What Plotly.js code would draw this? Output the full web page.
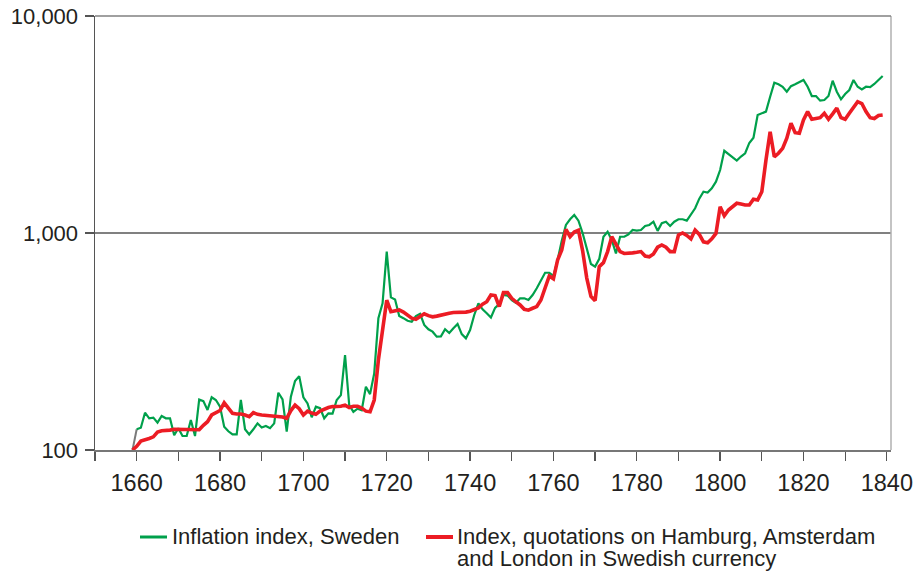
<!DOCTYPE html>
<html>
<head>
<meta charset="utf-8">
<script src="https://cdn.plot.ly/plotly-3.0.1.min.js"></script>
<style>
  html, body { margin: 0; padding: 0; background: #ffffff; }
  #chart { width: 917px; height: 571px; }
</style>
</head>
<body>
<div id="chart"></div>
<script>
// ---------------- DATA ----------------
const firstYearRed = 1659;
const firstYearGreen = 1660;

// Inflation index, Sweden (annual, 1660-1839)
const inflationSweden = [
  124.6, 126.7, 148.6, 140, 141, 133.6, 143.5, 140, 140, 117,
  126, 116, 116, 137.5, 116, 171, 168, 153, 175, 170,
  158.5, 128, 122, 118, 118, 170, 124.6, 118, 124.6, 132.7,
  127, 129, 126, 132.7, 183.6, 171, 121.5, 176, 208, 219,
  175, 164, 141.5, 158.5, 156, 140, 147.6, 147, 170, 179,
  274, 161, 150, 155, 152.5, 195.6, 181, 225.5, 404.5, 474,
  820, 505, 494, 414, 405, 394, 390, 414, 424, 377,
  360, 351, 333, 334, 360, 346, 364, 381, 342, 327,
  357, 419, 474, 445, 427, 408, 452, 470, 518, 515,
  491, 477, 500, 500, 491, 518, 556, 607, 656, 656,
  634, 751, 922, 1089, 1157, 1210, 1140, 1000, 840, 720,
  700, 760, 961, 1013, 928, 805, 961, 961, 986, 1032,
  1025, 1032, 1077, 1089, 1127, 1023, 1110, 1127, 1077, 1127,
  1157, 1157, 1140, 1210, 1300, 1440, 1549, 1535, 1607, 1724,
  1950, 2393, 2310, 2233, 2155, 2250, 2330, 2600, 2750, 3499,
  3560, 3625, 4246, 4928, 4850, 4720, 4477, 4750, 4850, 4980,
  5070, 4720, 4277, 4277, 4071, 4100, 4277, 5032, 4477, 4131,
  4371, 4560, 5070, 4720, 4590, 4720, 4700, 4860, 5100, 5290
];

// Index, quotations on Hamburg, Amsterdam and London in Swedish currency (annual, 1659-1839)
const exchangeIndex = [
  100,
  104, 110, 111, 113, 115, 121, 122.7, 122.7, 123.5, 124.6,
  124.6, 124.6, 124.6, 123.5, 123.5, 124, 130, 135, 145, 148.6,
  152, 165, 155, 147.6, 146.5, 146.5, 145, 142.4, 148.6, 146,
  145, 144.5, 144, 144, 143.5, 142, 140, 152, 161, 155,
  145, 151, 148, 146, 151, 154, 157, 158.5, 158.5, 159,
  161, 157, 159, 159, 156, 151, 150, 170, 260, 370,
  490, 434, 436, 442, 432, 418, 405, 400, 414, 424,
  416, 411, 414, 419, 424, 427, 430, 430, 430, 432,
  436, 442, 452, 470, 482, 518, 515, 458, 531, 531,
  500, 482, 466, 445, 441, 450, 458, 491, 556, 634,
  615, 751, 835, 1040, 961, 1010, 1030, 830, 620, 510,
  488, 700, 730, 821, 961, 881, 821, 805, 805, 810,
  815, 821, 783, 777, 800, 860, 881, 860, 821, 821,
  979, 1000, 975, 940, 1032, 985, 910, 902, 940, 995,
  1320, 1200, 1276, 1320, 1371, 1360, 1345, 1345, 1430, 1420,
  1549, 2168, 2930, 2246, 2330, 2456, 2732, 3203, 2900, 2880,
  3317, 3625, 3342, 3370, 3400, 3562, 3342, 3540, 3760, 3400,
  3342, 3562, 3820, 4028, 3950, 3625, 3400, 3370, 3480, 3500
];

const xTickVals = [1650, 1660, 1670, 1680, 1690, 1700, 1710, 1720, 1730, 1740,
                   1750, 1760, 1770, 1780, 1790, 1800, 1810, 1820, 1830, 1840];
const xTickText = ['', '1660', '', '1680', '', '1700', '', '1720', '', '1740',
                   '', '1760', '', '1780', '', '1800', '', '1820', '', '1840'];
const yTickVals = [100, 1000, 10000];
const yTickText = ['100', '1,000', '10,000'];

const legendGreenText = 'Inflation index, Sweden';
const legendRedLines = ['Index, quotations on Hamburg, Amsterdam', 'and London in Swedish currency'];

// ---------------- BUILD ----------------
const yearsGreen = inflationSweden.map((_, i) => firstYearGreen + i);
const yearsRed = exchangeIndex.map((_, i) => firstYearRed + i);

const FONT = '"Liberation Sans", Arial, Helvetica, sans-serif';
const TEXT = '#231f20';
const GREEN = '#00a04b';
const RED = '#ec1c24';

// plot-area geometry (pixels) used to place the hand-made legend
const W = 917, H = 571;
const M = { l: 95, r: 26, t: 16, b: 121 };
const PW = W - M.l - M.r, PH = H - M.t - M.b;
const px = X => (X - M.l) / PW;
const py = Y => (H - M.b - Y) / PH;

const traces = [
  {
    x: [yearsRed[0], yearsGreen[0]],
    y: [exchangeIndex[0], inflationSweden[0]],
    mode: 'lines',
    line: { color: '#7a7a7a', width: 2 },
    showlegend: false,
    hoverinfo: 'skip'
  },
  {
    x: yearsGreen, y: inflationSweden,
    name: legendGreenText,
    mode: 'lines',
    line: { color: GREEN, width: 2.2 },
    showlegend: false
  },
  {
    x: yearsRed, y: exchangeIndex,
    name: legendRedLines.join(' '),
    mode: 'lines',
    line: { color: RED, width: 3.6 },
    showlegend: false
  }
];

const legendRowY = 536;
const legendRow2Y = 558;

const layout = {
  width: W,
  height: H,
  margin: M,
  paper_bgcolor: '#ffffff',
  plot_bgcolor: '#ffffff',
  font: { family: FONT, size: 22, color: TEXT },
  showlegend: false,
  xaxis: {
    type: 'linear',
    range: [1650, 1841],
    tickmode: 'array',
    tickvals: xTickVals,
    ticktext: xTickText,
    ticks: 'outside',
    ticklen: 9,
    tickwidth: 1.3,
    tickcolor: '#555555',
    showline: true,
    linecolor: '#777777',
    linewidth: 1.5,
    showgrid: false,
    zeroline: false,
    ticklabelstandoff: 2,
    tickfont: { family: FONT, size: 23.5, color: TEXT }
  },
  yaxis: {
    type: 'log',
    range: [2, 4],
    tickmode: 'array',
    tickvals: yTickVals,
    ticktext: yTickText,
    ticks: 'outside',
    ticklen: 9,
    tickwidth: 1.3,
    tickcolor: '#555555',
    showline: true,
    linecolor: '#555555',
    linewidth: 1.5,
    showgrid: true,
    gridcolor: '#808080',
    gridwidth: 1.5,
    zeroline: false,
    ticklabelstandoff: 2,
    tickfont: { family: FONT, size: 22, color: TEXT }
  },
  shapes: [
    { type: 'line', xref: 'paper', yref: 'paper', x0: 1, x1: 1, y0: 0, y1: 1,
      line: { color: '#b0b0b0', width: 1.5 } },
    { type: 'line', xref: 'paper', yref: 'paper', x0: 0, x1: 1, y0: 1, y1: 1,
      line: { color: '#808080', width: 1.5 } },
    // legend samples
    { type: 'line', xref: 'paper', yref: 'paper', x0: px(140), x1: px(167),
      y0: py(legendRowY + 1), y1: py(legendRowY + 1), line: { color: GREEN, width: 3 } },
    { type: 'line', xref: 'paper', yref: 'paper', x0: px(426), x1: px(453),
      y0: py(legendRowY + 1), y1: py(legendRowY + 1), line: { color: RED, width: 4 } }
  ],
  annotations: [
    { xref: 'paper', yref: 'paper', x: px(170), y: py(legendRowY), xanchor: 'left', yanchor: 'middle',
      showarrow: false, text: legendGreenText, font: { family: FONT, size: 22, color: TEXT } },
    { xref: 'paper', yref: 'paper', x: px(455), y: py(legendRowY), xanchor: 'left', yanchor: 'middle',
      showarrow: false, text: legendRedLines[0], font: { family: FONT, size: 22, color: TEXT } },
    { xref: 'paper', yref: 'paper', x: px(455), y: py(legendRow2Y), xanchor: 'left', yanchor: 'middle',
      showarrow: false, text: legendRedLines[1], font: { family: FONT, size: 22, color: TEXT } }
  ]
};

Plotly.newPlot('chart', traces, layout, { displayModeBar: false, staticPlot: true });
</script>
</body>
</html>
